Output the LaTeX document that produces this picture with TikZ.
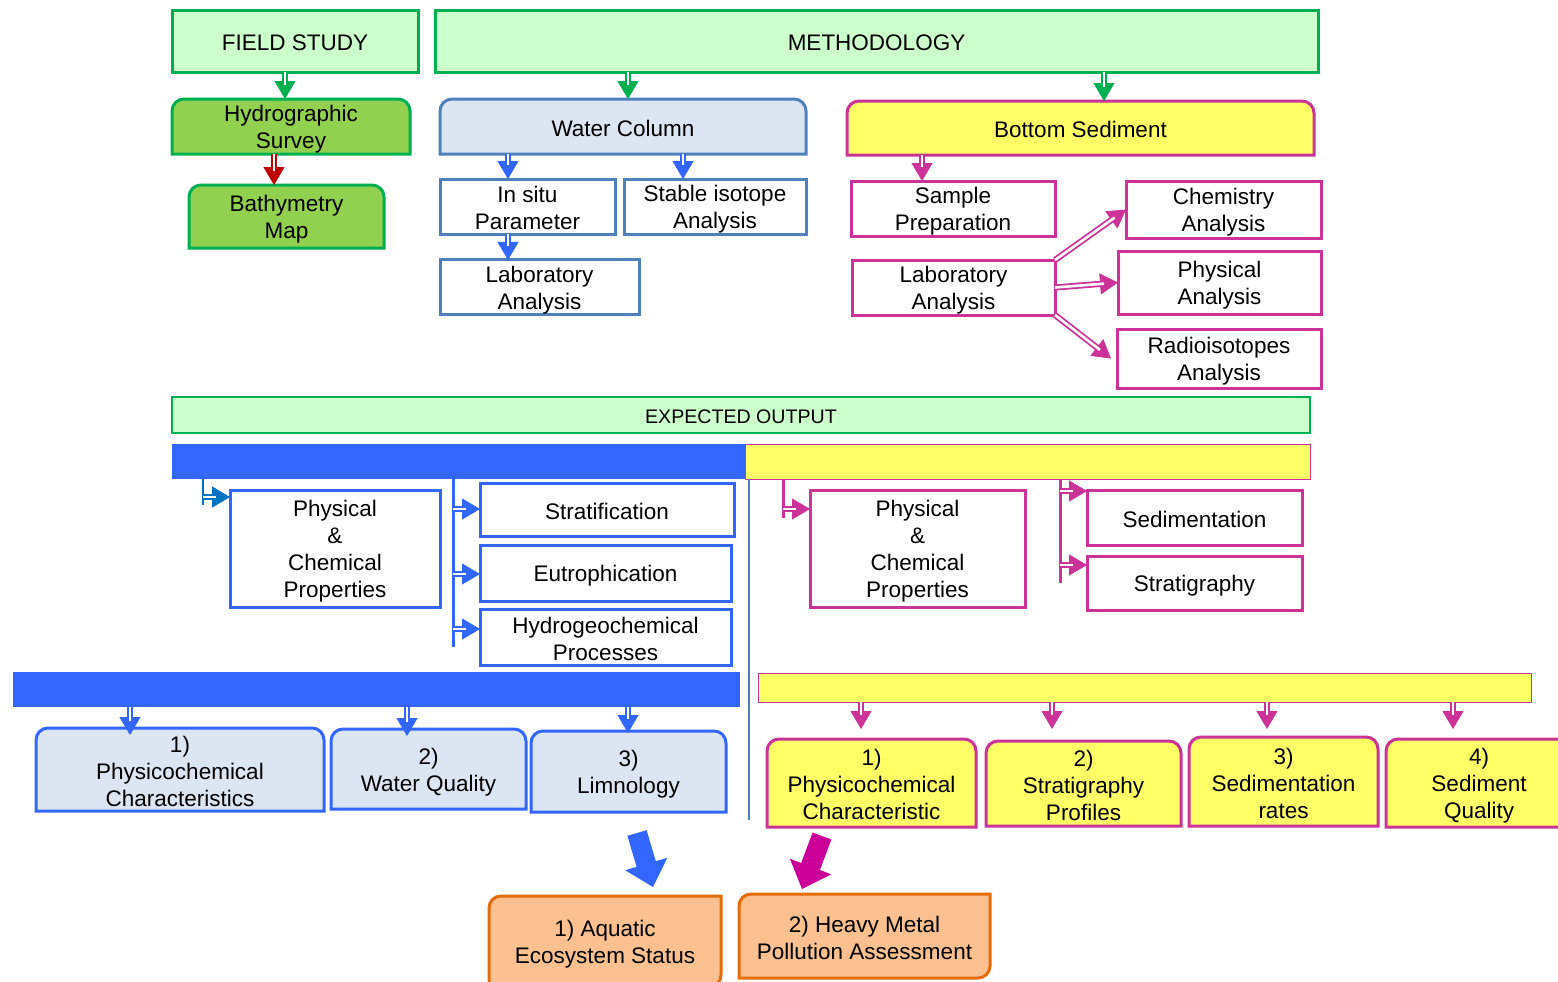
\documentclass[tikz,border=0pt]{standalone}
\usepackage{fontspec}
\setmainfont{Liberation Sans}
\usetikzlibrary{arrows.meta,backgrounds}
\definecolor{lgreen}{HTML}{CCFFCC}
\definecolor{dgreen}{HTML}{00B050}
\definecolor{leaf}{HTML}{92D050}
\definecolor{dred}{HTML}{C00000}
\definecolor{steel}{HTML}{4F81BD}
\definecolor{pale}{HTML}{DCE6F2}
\definecolor{bblue}{HTML}{3366FF}
\definecolor{eblue}{HTML}{0070C0}
\definecolor{yell}{HTML}{FFFF66}
\definecolor{mpink}{HTML}{CC3399}
\definecolor{mag}{HTML}{CC0099}
\definecolor{ofill}{HTML}{FAC090}
\definecolor{oline}{HTML}{E46C0A}
\newcommand\pst{\vrule height \dimexpr.905em+1pt\relax depth 0pt width 0pt\relax}
\newcommand\psb{\vrule height 0pt depth \dimexpr.212em-1pt\relax width 0pt\relax}
\tikzset{
  box/.style={inner sep=0pt,outer sep=0pt,align=center,text=black,font=\fontsize{11.25}{13.5}\selectfont},
  wbox/.style={draw=steel,fill=white,line width=1.5pt},
  bbox/.style={draw=bblue,fill=white,line width=1.5pt},
  pbox/.style={draw=mpink,fill=white,line width=1.5pt},
  ahead/.style={-{Triangle[length=9pt,width=10.5pt]},line width=0.4pt},
  ashaft/.style={double=white,double distance=1.3pt,line width=0.9pt,shorten >=7pt},
}
\newcommand\bx[7]{\node[box,#6,minimum width={(#4-#2)*0.5pt},minimum height={(#5-#3)*0.5pt}] (#1) at ({(#2+#4)/2},{(#3+#5)/2}) {\pst #7\psb};}
\newcommand\toprnd[2]{\begin{scope}[on background layer]\path[#2] (#1.south west) -- ([yshift=-6pt]#1.north west) arc[start angle=180,end angle=90,radius=6pt] -- ([xshift=-6pt]#1.north east) arc[start angle=90,end angle=0,radius=6pt] -- (#1.south east) -- cycle;\end{scope}}
\newcommand\diagrnd[2]{\begin{scope}[on background layer]\path[#2] ([yshift=-6pt]#1.north west) arc[start angle=180,end angle=90,radius=6pt] -- (#1.north east) -- ([yshift=6pt]#1.south east) arc[start angle=0,end angle=-90,radius=6pt] -- (#1.south west) -- cycle;\end{scope}}
\newcommand\darr[2]{\draw[#1,ahead] #2; \draw[#1,ashaft] #2;}
\begin{document}
\begin{tikzpicture}[x=0.5pt,y=-0.5pt]
\useasboundingbox (0,0) rectangle (1558,981);
\begin{scope}[on background layer]\fill[white] (0,0) rectangle (1558,981);\end{scope}
% top row
\bx{field}{172}{10}{418}{72}{draw=dgreen,fill=lgreen,line width=1.5pt}{FIELD STUDY}
\bx{meth}{435}{10}{1318}{72}{draw=dgreen,fill=lgreen,line width=1.5pt}{METHODOLOGY}
\bx{hydro}{172}{99}{410}{154}{}{Hydrographic\\Survey}
\toprnd{hydro}{fill=leaf,draw=dgreen,line width=1.5pt}
\bx{bathy}{189}{185}{384}{248}{}{Bathymetry\\Map}
\toprnd{bathy}{fill=leaf,draw=dgreen,line width=1.5pt}
\bx{wc}{440}{99}{806}{154}{}{Water Column}
\toprnd{wc}{fill=pale,draw=steel,line width=1.5pt}
\bx{insitu}{440}{179}{615}{234}{wbox}{In situ\\Parameter}
\bx{stable}{624}{179}{806}{234}{wbox}{Stable isotope\\Analysis}
\bx{labw}{440}{260}{639}{314}{wbox}{Laboratory\\Analysis}
\bx{bs}{847}{101}{1314}{155}{}{Bottom Sediment}
\toprnd{bs}{fill=yell,draw=mpink,line width=1.5pt}
\bx{sample}{851}{181}{1055}{236}{pbox}{Sample\\Preparation}
\bx{labs}{852}{260}{1055}{315}{pbox}{Laboratory\\Analysis}
\bx{chem}{1126}{181}{1321}{238}{pbox}{Chemistry\\Analysis}
\bx{phys}{1118}{251}{1321}{314}{pbox}{Physical\\Analysis}
\bx{radio}{1117}{329}{1321}{388}{pbox}{Radioisotopes\\Analysis}
% expected output
\bx{eo}{172}{397}{1310}{433}{draw=dgreen,fill=lgreen,line width=1pt,font=\fontsize{9.8}{12}\selectfont}{EXPECTED OUTPUT}
\bx{wbar}{172}{444}{745}{479}{fill=bblue}{}
\bx{ybar}{745}{444}{1310}{479}{fill=yell,draw=mpink,line width=0.5pt}{}
\draw[steel,line width=0.6pt] (749,0 |- ybar.south) -- (749,820);
\bx{pcl}{230}{490}{440}{607}{bbox}{Physical\\\&\\Chemical\\Properties}
\bx{strat}{480}{483}{734}{536}{bbox}{Stratification}
\bx{eut}{480}{545}{731}{601}{bbox}{Eutrophication}
\bx{hyd}{480}{609}{731}{665}{bbox}{Hydrogeochemical\\Processes}
\bx{pcr}{810}{490}{1025}{607}{pbox}{Physical\\\&\\Chemical\\Properties}
\bx{sed}{1087}{490}{1302}{545}{pbox}{Sedimentation}
\bx{stg}{1087}{556}{1302}{610}{pbox}{Stratigraphy}
% lower bars
\bx{wbar2}{13}{672}{740}{707}{fill=bblue}{}
\bx{ybar2}{758}{673}{1531}{702}{fill=yell,draw=mpink,line width=0.5pt}{}
\bx{o1}{36}{728}{324}{811}{}{1)\\Physicochemical\\Characteristics}
\toprnd{o1}{fill=pale,draw=bblue,line width=1.5pt}
\bx{o2}{331}{729}{526}{809}{}{2)\\Water Quality}
\toprnd{o2}{fill=pale,draw=bblue,line width=1.5pt}
\bx{o3}{531}{731}{726}{812}{}{3)\\Limnology}
\toprnd{o3}{fill=pale,draw=bblue,line width=1.5pt}
\bx{y1}{767}{739}{976}{827}{}{1)\\Physicochemical\\Characteristic}
\toprnd{y1}{fill=yell,draw=mpink,line width=1.5pt}
\bx{y2}{986}{741}{1181}{826}{}{2)\\Stratigraphy\\Profiles}
\toprnd{y2}{fill=yell,draw=mpink,line width=1.5pt}
\bx{y3}{1189}{737}{1378}{826}{}{3)\\Sedimentation\\rates}
\toprnd{y3}{fill=yell,draw=mpink,line width=1.5pt}
\bx{y4}{1386}{739}{1572}{827}{}{4)\\Sediment\\Quality}
\toprnd{y4}{fill=yell,draw=mpink,line width=1.5pt}
\bx{f1}{489}{896}{721}{987}{}{1) Aquatic\\Ecosystem Status}
\diagrnd{f1}{fill=ofill,draw=oline,line width=1.5pt}
\bx{f2}{739}{894}{990}{978}{}{2) Heavy Metal\\Pollution Assessment}
\diagrnd{f2}{fill=ofill,draw=oline,line width=1.5pt}
% arrows top
\darr{dgreen}{(285,0 |- field.south) -- (285,0 |- hydro.north)}
\darr{dgreen}{(628,0 |- meth.south) -- (628,0 |- wc.north)}
\darr{dgreen}{(1104,0 |- meth.south) -- (1104,0 |- bs.north)}
\darr{dred}{(274,0 |- hydro.south) -- (274,0 |- bathy.north)}
\darr{bblue}{(508,0 |- wc.south) -- (508,0 |- insitu.north)}
\darr{bblue}{(683,0 |- wc.south) -- (683,0 |- stable.north)}
\darr{bblue}{(508,0 |- insitu.south) -- (508,0 |- labw.north)}
\darr{mpink}{(922,0 |- bs.south) -- (922,0 |- sample.north)}
\darr{mpink}{(labs.north east) -- (chem.west)}
\darr{mpink}{(labs.east) -- (phys.west)}
\darr{mpink}{(labs.south east) -- ([xshift=-3pt]radio.west)}
% expected output connectors
\draw[eblue,line width=1.2pt] (203,0 |- wbar.south) -- (203,505);
\darr{eblue}{(203,497) -- (pcl.west |- 0,497)}
\draw[bblue,line width=1.5pt] (453,0 |- wbar.south) -- (453,647);
\darr{bblue}{(453,509) -- (strat.west |- 0,509)}
\darr{bblue}{(453,574) -- (eut.west |- 0,574)}
\darr{bblue}{(453,629) -- (hyd.west |- 0,629)}
\draw[mpink,line width=1.5pt] (783,0 |- ybar.south) -- (783,518);
\darr{mpink}{(783,509) -- (pcr.west |- 0,509)}
\draw[mpink,line width=1.5pt] (1060,0 |- ybar.south) -- (1060,583);
\darr{mpink}{(1060,491) -- (sed.west |- 0,491)}
\darr{mpink}{(1060,565) -- (stg.west |- 0,565)}
% lower arrows
\darr{bblue}{(130,0 |- wbar2.south) -- (130,735)}
\darr{bblue}{(407,0 |- wbar2.south) -- (407,736)}
\darr{bblue}{(628,0 |- wbar2.south) -- (628,733)}
\darr{mpink}{(861,0 |- ybar2.south) -- (861,729)}
\darr{mpink}{(1052,0 |- ybar2.south) -- (1052,729)}
\darr{mpink}{(1267,0 |- ybar2.south) -- (1267,729)}
\darr{mpink}{(1453,0 |- ybar2.south) -- (1453,729)}
% block arrows
\fill[bblue] (627.4,835.8) -- (646.6,830.2) -- (655.8,861.2) -- (667.3,857.8) -- (653,887) -- (625.1,870.2) -- (636.6,866.8) -- cycle;
\fill[mag] (812.6,832.5) -- (831.4,839.5) -- (819.9,870) -- (831.1,874.3) -- (802,889) -- (789.9,858.7) -- (801.1,863) -- cycle;
\end{tikzpicture}
\end{document}
